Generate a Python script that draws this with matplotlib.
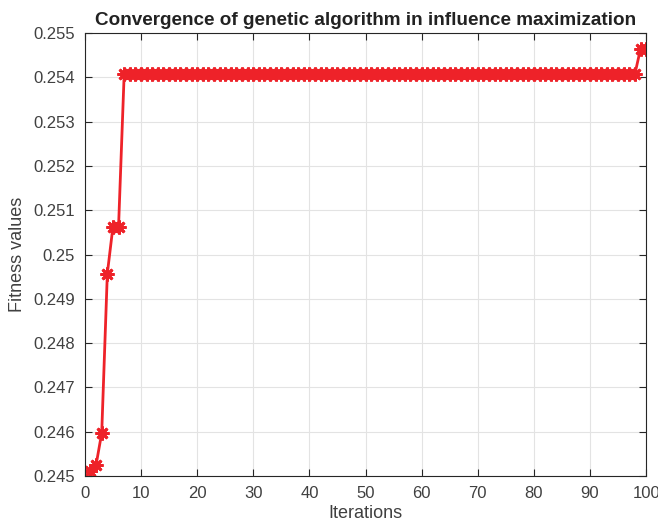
import numpy as np
import matplotlib.pyplot as plt

plt.rcParams['font.family'] = ['Liberation Sans', 'DejaVu Sans']

# best fitness per iteration
iterations = np.arange(1, 101)
early_fitness = [0.24510, 0.24525, 0.24597, 0.24957, 0.25063, 0.25063]
plateau_fitness = [0.25408] * 92
late_fitness = [0.25465, 0.25465]
fitness = np.array(early_fitness + plateau_fitness + late_fitness)

xticks = np.arange(0, 101, 10)
yticks = np.arange(0.245, 0.25501, 0.001)

fig = plt.figure(figsize=(6.58, 5.27), dpi=100)
ax = fig.add_axes([0.129, 0.097, 0.853, 0.840])

red = '#ee2229'
ax.plot(iterations, fitness, color=red, lw=2, marker=(8, 2, 0),
        markersize=10, markeredgewidth=2, markeredgecolor=red)

ax.set_xlim(0, 100)
ax.set_ylim(0.245, 0.255)
ax.set_xticks(xticks)
ax.set_yticks(yticks)
ax.set_yticklabels(['%g' % round(v, 3) for v in yticks])
ax.grid(True, color='#e3e3e3', lw=0.8)
ax.set_axisbelow(True)

for s in ax.spines.values():
    s.set_color('#262626')
    s.set_linewidth(0.8)
ax.tick_params(direction='in', top=True, right=True, length=5,
               color='#262626', labelcolor='#404040', labelsize=12, pad=7)

ax.set_xlabel('Iterations', fontsize=13, color='#404040', labelpad=3)
ax.set_ylabel('Fitness values', fontsize=13, color='#404040', labelpad=5)
ax.set_title('Convergence of genetic algorithm in influence maximization',
             fontsize=13.6, fontweight='bold', color='#222222', pad=6)

fig.savefig('out.png', dpi=100)
